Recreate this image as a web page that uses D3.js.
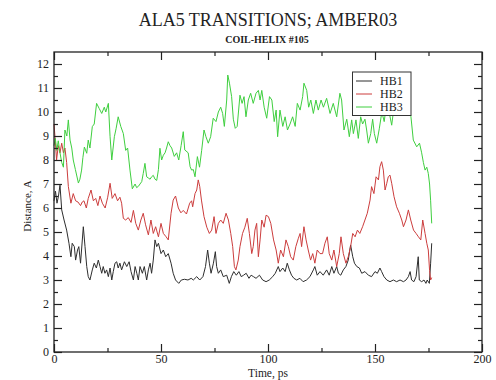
<!DOCTYPE html>
<html>
<head>
<meta charset="utf-8">
<script src="https://cdn.jsdelivr.net/npm/d3@7"></script>
<style>
  html, body { margin: 0; padding: 0; background: #fff; }
  svg { display: block; }
  text { font-family: "Liberation Serif", "Times New Roman", serif; fill: #222; }
</style>
</head>
<body>
<svg id="chart" width="496" height="380"></svg>
<script>
// Hydrogen-bond distances (Å) against simulation time (ps), one [time, distance] pair per sample
const hb1 = [[0,6.3],[0.7,6.7],[1.4,6.2],[2.1,6.5],[2.8,6.95],[3.6,5.92],[4.7,5.5],[5.9,5.08],[7,4.53],[7.9,3.97],[8.5,4.53],[9.5,4.39],[10.1,3.83],[11,4.25],[11.6,4.39],[12.4,3.7],[13.7,5.22],[14.5,4.39],[15.3,3.56],[16,3.14],[16.8,3.0],[17.9,3.42],[18.8,3.7],[19.8,3.5],[20.7,3.83],[21.5,3.56],[22.3,3.28],[23,3.56],[23.8,3.28],[24.6,3.42],[25.4,3.14],[26.2,3.5],[27,3.0],[27.7,3.35],[28.5,3.7],[29.3,3.76],[30,3.5],[30.8,3.7],[31.6,3.42],[32.9,3.76],[34,3.56],[35.1,3.76],[36,3.35],[37.1,3.0],[37.9,3.56],[38.7,3.28],[39.4,3.0],[40.2,3.56],[41.3,3.28],[42.2,3.56],[43.3,3.0],[44.1,3.42],[44.9,3.7],[45.6,3.28],[46.4,3.83],[47.2,4.67],[48,4.39],[48.8,4.53],[50,4.1],[51.1,4.25],[52.2,3.97],[53.4,4.1],[54.7,3.7],[55.7,3.28],[56.8,3.0],[58.3,2.86],[59.5,3.0],[61,3.03],[62.6,3.0],[64.1,3.07],[65.1,3.0],[66.7,3.14],[68.1,3.0],[69.6,3.14],[70.8,3.56],[71.8,4.25],[72.6,3.7],[73.4,3.28],[74.5,3.7],[75.4,4.18],[76,3.56],[76.8,3.28],[77.9,3.42],[79.1,3.14],[80.7,3.2],[81.9,2.86],[82.9,3.14],[84,3.35],[85.2,3.2],[86.4,3.35],[87.5,3.14],[88.6,3.2],[89.8,3.28],[91.1,3.07],[92.1,3.2],[93.2,3.14],[94.4,3.07],[96,3.2],[97.5,3.0],[99.1,2.93],[100.6,3.0],[102.2,3.14],[103.4,3.28],[104.8,3.56],[105.6,3.35],[106.9,3.5],[108,3.35],[109,3.7],[110,3.42],[111,3.2],[112.1,3.07],[113.4,3.0],[114.9,3.07],[116.4,2.93],[118,3.0],[119.6,3.14],[121.2,3.42],[121.9,3.56],[123,3.2],[124.3,3.35],[125.8,3.2],[127.4,3.42],[128.6,3.2],[129.8,3.56],[130.8,3.28],[132.1,3.56],[132.9,3.28],[134,3.2],[135.2,3.42],[136.4,3.56],[137.5,3.83],[138.6,4.46],[139.6,3.97],[140.4,3.7],[141.5,3.56],[142.7,3.5],[143.8,3.28],[145.3,3.35],[146.9,3.2],[148.4,3.14],[150,3.35],[151.1,3.28],[152.3,3.5],[153.1,3.35],[154.2,3.14],[155.5,3.0],[157,2.93],[158.6,3.0],[160.1,2.93],[161.7,3.0],[163.3,2.93],[164.5,3.0],[165.6,3.14],[166.4,3.35],[167.1,3.0],[168.2,2.93],[169.2,3.14],[170.2,3.97],[170.7,3.0],[171.8,2.93],[172.9,3.0],[173.8,2.86],[174.4,3.0],[175.4,2.86],[176,3.7],[176.5,4.53]];

const hb2 = [[0,9.5],[0.6,8.8],[1.2,8.0],[2,8.6],[2.8,8.3],[3.6,8.7],[4.4,8.3],[5.1,8.5],[5.9,7.9],[6.7,6.9],[7.9,6.2],[9,6.6],[10.1,6.3],[11.2,6.25],[12.4,6.1],[13.2,6.25],[14,6.3],[15.1,6.0],[16,6.4],[17.3,6.75],[18.4,6.3],[19.5,6.4],[20.5,6.1],[21.5,6.5],[22.6,6.2],[23.9,6.0],[25.1,6.45],[26.2,7.03],[27.2,6.4],[28.5,6.6],[29.7,6.3],[30.8,6.45],[31.6,6.2],[32.4,5.57],[33.5,5.5],[34.7,5.6],[36,5.4],[37.1,5.9],[38.2,5.36],[39.4,5.08],[40.6,5.5],[41.7,5.78],[42.8,5.3],[44.1,4.88],[45.3,5.5],[46.4,4.94],[47.5,5.22],[48.8,4.8],[50,5.36],[51.1,4.94],[52.4,4.8],[53.4,4.67],[54.7,5.78],[55.7,6.33],[56.8,6.5],[58.1,6.0],[59.3,5.8],[60.4,5.9],[61.9,5.75],[63.4,6.2],[64.3,6.3],[64.8,6.05],[65.9,6.6],[66.7,6.75],[67.4,7.17],[68.1,6.9],[68.9,6.33],[70.1,5.64],[71.4,5.2],[72.6,4.94],[73.7,5.08],[74.8,5.64],[75.7,4.94],[76.8,5.36],[77.9,5.5],[79.1,5.36],[80.4,5.78],[81.5,5.5],[82.6,4.94],[83.5,4.39],[84.3,3.56],[85,3.42],[86.1,3.83],[86.9,4.39],[88.1,4.94],[89.2,5.2],[90.3,5.57],[91.3,4.94],[92.4,4.1],[93.1,4.39],[93.9,5.08],[94.7,5.36],[95.5,3.97],[96.3,4.67],[97.1,5.5],[98.2,5.2],[99.1,5.7],[100.2,5.64],[101.3,5.36],[102.6,4.67],[103.8,4.25],[104.8,3.7],[105.9,4.25],[107.2,3.97],[108.4,4.67],[109.5,4.39],[110.6,3.97],[111.8,3.83],[113,4.39],[114.2,4.74],[115,4.94],[115.7,4.39],[116.8,5.22],[117.8,4.67],[118.8,4.25],[119.9,3.83],[120.9,4.1],[121.9,3.7],[123,4.25],[124.3,4.1],[125.5,4.1],[126.6,4.53],[127.7,4.8],[128.6,4.1],[129.8,3.83],[130.8,4.25],[132.1,3.56],[133.3,4.1],[134.1,4.8],[135.2,4.1],[136.4,3.7],[137.5,3.97],[138.6,4.39],[139.6,4.94],[140.7,4.8],[141.8,5.08],[142.9,4.94],[144.2,5.22],[145.3,5.5],[146.4,5.78],[147.7,6.33],[148.4,6.89],[149.5,6.6],[150.5,7.3],[151.6,7.17],[152.3,7.72],[153.1,7.93],[153.9,7.58],[154.7,6.75],[155.5,7.03],[156.2,7.3],[157,7.37],[157.8,7.03],[158.9,6.47],[160.1,6.05],[161.4,5.78],[162.5,5.5],[163.3,5.22],[164.5,5.5],[165.6,5.92],[166.7,5.5],[168,5.08],[169.2,4.94],[170.3,4.8],[171.4,4.67],[172.3,5.5],[173.4,4.94],[174.2,4.53],[174.9,4.25],[175.5,3.4],[176,3.0],[176.5,3.1]];

const hb3 = [[0,8.6],[0.6,8.9],[1.3,8.4],[2,8.8],[2.8,8.3],[3.6,7.9],[4.4,7.7],[5.1,9.25],[6,9.0],[6.7,9.67],[7.5,8.83],[8.3,8.5],[9,8.0],[10,7.6],[11.4,7.04],[12.1,7.2],[12.9,7.58],[13.5,8.1],[14.2,8.54],[15.3,8.28],[16,8.83],[16.8,8.5],[17.9,9.39],[18.8,9.5],[19.9,10.36],[21.1,10.15],[22.3,9.94],[23.5,10.2],[24.2,10.0],[25.4,10.36],[26.2,8.97],[27,8.0],[28.2,8.97],[29,9.3],[30,9.8],[31.2,9.4],[32.4,9.1],[33.5,8.4],[34.4,8.5],[35.5,7.58],[36.6,6.8],[37.9,7.0],[38.6,6.85],[39.4,6.9],[40.2,7.0],[41,7.1],[41.7,7.44],[42.5,7.86],[43.3,7.3],[44.1,7.25],[44.9,7.2],[45.6,7.3],[46.4,7.36],[47.2,7.2],[48,7.15],[48.8,7.6],[49.5,8.49],[50.3,8.0],[51.1,8.2],[51.9,8.3],[52.6,8.5],[53.4,8.76],[54.2,8.6],[55,8.5],[56.2,8.15],[57.3,8.3],[58.3,8.0],[59.4,8.6],[60.4,9.18],[61.1,8.42],[62.7,8.3],[63.6,7.72],[64.3,7.58],[65.1,7.6],[65.9,7.3],[67,8.14],[68,7.7],[69,8.4],[70.1,9.25],[71,8.97],[72.1,8.7],[73.2,8.97],[74.4,9.74],[75.7,9.6],[76.8,10.0],[77.9,10.2],[78.8,9.94],[79.6,9.4],[80.7,10.5],[81.2,11.54],[82,11.2],[83,10.64],[83.8,9.7],[84.7,9.32],[85.6,9.4],[86.9,10.7],[87.9,10.36],[88.8,10.64],[89.7,9.8],[90.8,10.5],[91.9,10.78],[93.1,10.36],[94.4,10.78],[95.5,10.9],[96.3,10.5],[97.1,10.9],[98.2,10.2],[99.4,9.74],[100.7,10.64],[101.8,10.5],[102.9,9.6],[103.8,10.08],[104.5,8.97],[105.6,10.08],[106.9,9.4],[108,9.8],[109.1,9.25],[110.3,9.5],[111.5,9.8],[112.7,9.4],[113.7,10.36],[115,10.08],[116.2,10.64],[116.8,11.2],[118.1,10.9],[119,10.2],[120,10.5],[121.2,9.94],[122.4,10.5],[123.5,10.08],[124.8,10.5],[125.9,10.2],[127.4,10.57],[129,9.94],[130.5,10.36],[132.1,9.8],[133.6,10.78],[134.4,10.5],[135.5,9.25],[136.8,9.7],[138,8.97],[139.1,9.67],[139.9,9.1],[141.1,9.67],[142.2,8.9],[143.3,9.8],[144.2,9.5],[145.3,9.7],[146.1,9.25],[146.9,8.7],[148,9.1],[148.9,9.7],[149.7,9.1],[150.8,8.7],[152,9.3],[153.2,10.0],[154.3,9.6],[155.5,10.4],[156.6,10.0],[157.8,9.45],[159,10.3],[160.2,9.9],[161.3,10.5],[162.5,10.0],[163.6,10.4],[164.8,9.9],[166,10.2],[166.8,9.8],[167.9,8.83],[169.5,8.55],[170.8,8.7],[171.8,8.3],[172.6,7.9],[173.4,7.58],[174.2,7.7],[174.9,7.44],[175.5,7.0],[176,6.3],[176.5,5.36]];

const seriesNames = ["HB1", "HB2", "HB3"];
const seriesColors = ["#2e2e2e", "#cc3d3d", "#3fcf3f"];
const xMajorTicks = [0, 50, 100, 150, 200];
const xMinorTicks = [25, 75, 125, 175];
const yMajorTicks = [0, 1, 2, 3, 4, 5, 6, 7, 8, 9, 10, 11, 12];
const yMinorTicks = d3.range(0.5, 12.5, 1);
const titleText = "ALA5 TRANSITIONS; AMBER03";
const subtitleText = "COIL-HELIX #105";
const xLabel = "Time, ps";
const yLabel = "Distance, A";

const svg = d3.select("#chart");
const plot = { left: 54, right: 482, top: 52, bottom: 352 };

const x = d3.scaleLinear().domain([0, 200]).range([plot.left, plot.right]);
const y = d3.scaleLinear().domain([0, 12.5]).range([plot.bottom, plot.top]);

svg.append("rect").attr("width", 496).attr("height", 380).attr("fill", "#fff");

// Data lines
const line = d3.line().x(d => x(d[0])).y(d => y(d[1]));
[hb1, hb2, hb3].forEach((data, i) => {
  svg.append("path")
    .datum(data)
    .attr("d", line)
    .attr("fill", "none")
    .attr("stroke", seriesColors[i])
    .attr("stroke-width", 1)
    .attr("stroke-linejoin", "round");
});

// Axes: inward ticks on all four sides, major and minor
function styleAxis(g) {
  g.select(".domain").remove();
  g.selectAll(".tick line").attr("stroke", "#222").attr("stroke-width", 1.2);
  g.selectAll(".tick text").attr("font-size", 12).attr("fill", "#222")
    .attr("font-family", "Liberation Serif, Times New Roman, serif");
}
const axes = svg.append("g");
axes.append("g").attr("transform", `translate(0,${plot.bottom})`)
  .call(d3.axisBottom(x).tickValues(xMajorTicks).tickSize(-8).tickPadding(2).tickFormat(d3.format("d"))).call(styleAxis);
axes.append("g").attr("transform", `translate(0,${plot.bottom})`)
  .call(d3.axisBottom(x).tickValues(xMinorTicks).tickSize(-4).tickFormat("")).call(styleAxis);
axes.append("g").attr("transform", `translate(0,${plot.top})`)
  .call(d3.axisTop(x).tickValues(xMajorTicks).tickSize(-8).tickFormat("")).call(styleAxis);
axes.append("g").attr("transform", `translate(0,${plot.top})`)
  .call(d3.axisTop(x).tickValues(xMinorTicks).tickSize(-4).tickFormat("")).call(styleAxis);
axes.append("g").attr("transform", `translate(${plot.left},0)`)
  .call(d3.axisLeft(y).tickValues(yMajorTicks).tickSize(-8).tickPadding(5).tickFormat(d3.format("d"))).call(styleAxis);
axes.append("g").attr("transform", `translate(${plot.left},0)`)
  .call(d3.axisLeft(y).tickValues(yMinorTicks).tickSize(-4).tickFormat("")).call(styleAxis);
axes.append("g").attr("transform", `translate(${plot.right},0)`)
  .call(d3.axisRight(y).tickValues(yMajorTicks).tickSize(-8).tickFormat("")).call(styleAxis);
axes.append("g").attr("transform", `translate(${plot.right},0)`)
  .call(d3.axisRight(y).tickValues(yMinorTicks).tickSize(-4).tickFormat("")).call(styleAxis);

// Frame
svg.append("rect")
  .attr("x", plot.left).attr("y", plot.top)
  .attr("width", plot.right - plot.left).attr("height", plot.bottom - plot.top)
  .attr("fill", "none").attr("stroke", "#222").attr("stroke-width", 1.3);

// Titles and axis labels
svg.append("text").attr("x", 268).attr("y", 26).attr("text-anchor", "middle")
  .attr("font-size", 18).text(titleText);
svg.append("text").attr("x", 267).attr("y", 43).attr("text-anchor", "middle")
  .attr("font-size", 10).attr("font-weight", "bold").text(subtitleText);
svg.append("text").attr("x", 268).attr("y", 377).attr("text-anchor", "middle")
  .attr("font-size", 11.5).text(xLabel);
svg.append("text").attr("transform", "translate(31,206) rotate(-90)").attr("text-anchor", "middle")
  .attr("font-size", 11).text(yLabel);

// Legend
const legend = svg.append("g");
legend.append("rect").attr("x", 352.5).attr("y", 72).attr("width", 58.5).attr("height", 43.5)
  .attr("fill", "#fff").attr("stroke", "#333").attr("stroke-width", 1);
seriesNames.forEach((name, i) => {
  const ly = 81 + i * 13;
  legend.append("line").attr("x1", 356).attr("x2", 372).attr("y1", ly).attr("y2", ly)
    .attr("stroke", seriesColors[i]).attr("stroke-width", 1);
  legend.append("text").attr("x", 380).attr("y", ly + 4).attr("font-size", 12).text(name);
});
</script>
</body>
</html>
